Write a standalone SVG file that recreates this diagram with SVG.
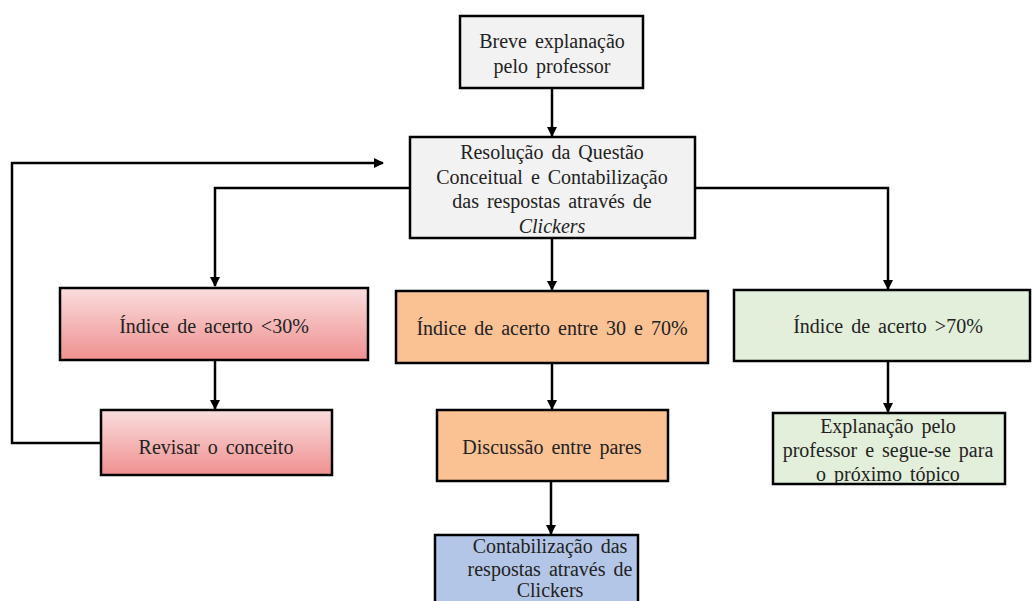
<svg xmlns="http://www.w3.org/2000/svg" width="1033" height="601" viewBox="0 0 1033 601">
<style>
.box{stroke:#000;stroke-width:2.5}
.t{font-family:"Liberation Serif","Times New Roman",serif;font-size:20px;fill:#222;text-anchor:middle;word-spacing:3px}
.c{fill:none;stroke:#000;stroke-width:2.5}
</style>
<defs>
<marker id="ah" viewBox="0 0 10 10" refX="9" refY="5" markerWidth="4" markerHeight="4" orient="auto" markerUnits="strokeWidth">
<path d="M0,0 L10,5 L0,10 z" fill="#000"/>
</marker>
<linearGradient id="red" x1="0" y1="0" x2="0" y2="1">
<stop offset="0" stop-color="#fadddd"/>
<stop offset="1" stop-color="#ef9090"/>
</linearGradient>
<clipPath id="cg"><rect x="773" y="413" width="232" height="70"/></clipPath>
</defs>
<rect width="1033" height="601" fill="#fff"/>
<g id="connectors">
<path class="c" d="M552,88 V136" marker-end="url(#ah)"/>
<path class="c" d="M410,188 H215 V286" marker-end="url(#ah)"/>
<path class="c" d="M552,238 V290" marker-end="url(#ah)"/>
<path class="c" d="M695,188 H888 V289" marker-end="url(#ah)"/>
<path class="c" d="M215,360 V409" marker-end="url(#ah)"/>
<path class="c" d="M552,363 V409" marker-end="url(#ah)"/>
<path class="c" d="M888,361 V412" marker-end="url(#ah)"/>
<path class="c" d="M551,481 V534" marker-end="url(#ah)"/>
<path class="c" d="M101,443 H12 V163 H383" marker-end="url(#ah)"/>
</g>
<g id="n1">
<rect class="box" x="460" y="16" width="183" height="72" fill="#f2f2f2"/>
<text class="t" x="552" y="48">Breve explanação</text>
<text class="t" x="552" y="73">pelo professor</text>
</g>
<g id="n2">
<rect class="box" x="410" y="137" width="285" height="101" fill="#f2f2f2"/>
<text class="t" x="552" y="159">Resolução da Questão</text>
<text class="t" x="552" y="184">Conceitual e Contabilização</text>
<text class="t" x="552" y="208">das respostas através de</text>
<text class="t" x="552" y="233" font-style="italic">Clickers</text>
</g>
<g id="n3">
<rect class="box" x="60" y="288" width="308" height="72" fill="url(#red)"/>
<text class="t" x="214" y="333">Índice de acerto &lt;30%</text>
</g>
<g id="n4">
<rect class="box" x="396" y="291" width="312" height="72" fill="#fac192"/>
<text class="t" x="552" y="335">Índice de acerto entre 30 e 70%</text>
</g>
<g id="n5">
<rect class="box" x="734" y="290" width="296" height="71" fill="#e2efda"/>
<text class="t" x="888" y="333">Índice de acerto &gt;70%</text>
</g>
<g id="n6">
<rect class="box" x="101" y="410" width="231" height="65" fill="url(#red)"/>
<text class="t" x="216" y="454">Revisar o conceito</text>
</g>
<g id="n7">
<rect class="box" x="437" y="410" width="231" height="71" fill="#fac192"/>
<text class="t" x="552" y="454">Discussão entre pares</text>
</g>
<g id="n8">
<rect class="box" x="773" y="413" width="232" height="71" fill="#e2efda"/>
<g clip-path="url(#cg)">
<text class="t" x="888" y="433">Explanação pelo</text>
<text class="t" x="888" y="457">professor e segue-se para</text>
<text class="t" x="888" y="481">o próximo tópico</text>
</g>
</g>
<g id="n9">
<rect class="box" x="435" y="535" width="203" height="80" fill="#b4c6e7"/>
<text class="t" x="550" y="553">Contabilização das</text>
<text class="t" x="550" y="576">respostas através de</text>
<text class="t" x="550" y="597">Clickers</text>
</g>
</svg>
